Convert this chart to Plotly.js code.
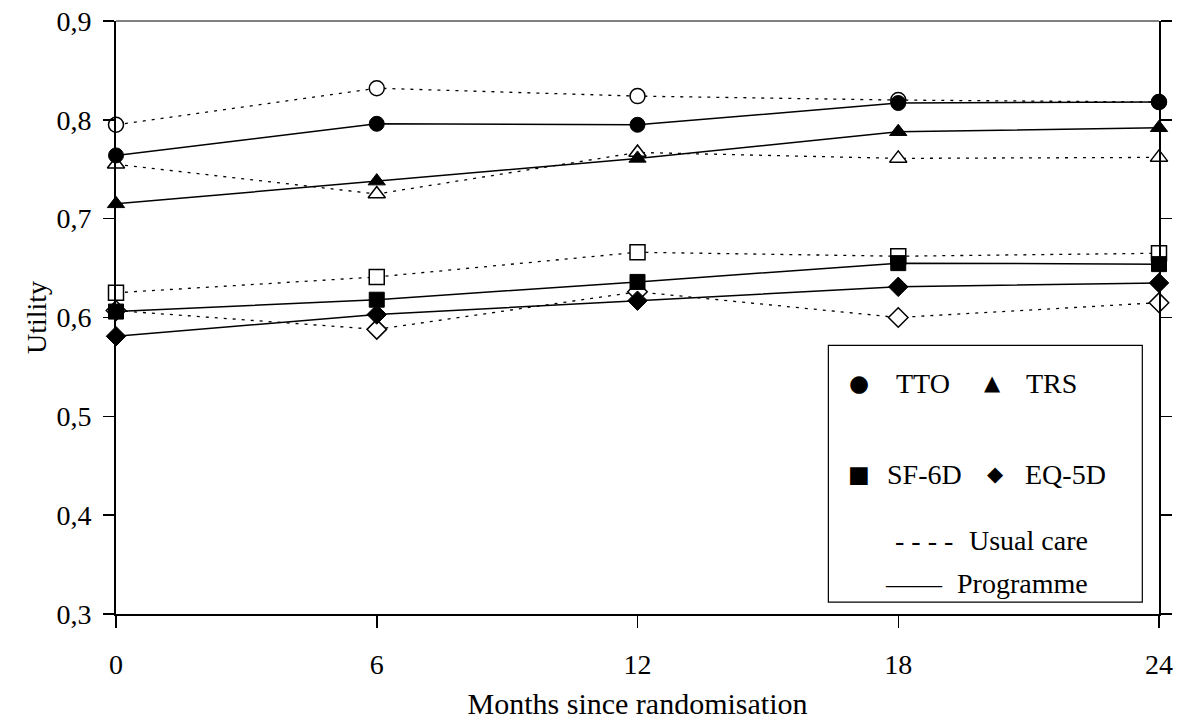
<!DOCTYPE html>
<html>
<head>
<meta charset="utf-8">
<script src="https://cdn.plot.ly/plotly-3.0.1.min.js"></script>
<style>html,body{margin:0;padding:0;background:#fff;}#chart{width:1179px;height:720px;}</style>
</head>
<body>
<div id="chart"></div>
<script>
const months = [0, 6, 12, 18, 24];
const ttoUsual = [0.795, 0.832, 0.824, 0.820, 0.818];
const ttoProg  = [0.764, 0.796, 0.795, 0.817, 0.818];
const trsUsual = [0.755, 0.725, 0.767, 0.761, 0.762];
const trsProg  = [0.715, 0.738, 0.761, 0.788, 0.792];
const sfUsual  = [0.625, 0.641, 0.666, 0.662, 0.665];
const sfProg   = [0.606, 0.618, 0.636, 0.655, 0.654];
const eqUsual  = [0.607, 0.588, 0.626, 0.600, 0.615];
const eqProg   = [0.581, 0.603, 0.617, 0.631, 0.635];
const yTicks = [0.3, 0.4, 0.5, 0.6, 0.7, 0.8, 0.9];
const xTicks = [0, 6, 12, 18, 24];

const FONT = 'Liberation Serif, DejaVu Serif, serif';
const dotted = '3px,6px';

function usual(y, sym) {
  return {x: months, y: y, type: 'scatter', mode: 'lines+markers', cliponaxis: false,
    line: {color: '#000', width: 1.3, dash: dotted},
    marker: {symbol: sym, size: 15, color: '#fff', line: {color: '#000', width: 1.5}},
    showlegend: false};
}
function prog(y, sym) {
  return {x: months, y: y, type: 'scatter', mode: 'lines+markers', cliponaxis: false,
    line: {color: '#000', width: 1.5},
    marker: {symbol: sym, size: 15, color: '#000', line: {color: '#000', width: 1}},
    showlegend: false};
}

const data = [
  usual(eqUsual, 'diamond'), usual(sfUsual, 'square'), usual(trsUsual, 'triangle-up'), usual(ttoUsual, 'circle'),
  prog(eqProg, 'diamond'), prog(sfProg, 'square'), prog(trsProg, 'triangle-up'), prog(ttoProg, 'circle')
];

const lx0 = 0.683, lx1 = 0.984, ly0 = 0.020, ly1 = 0.453;
function ann(x, y, text, size, anchor) {
  return {xref: 'paper', yref: 'paper', x: x, y: y, text: text, showarrow: false,
    xanchor: anchor || 'left', yanchor: 'middle', font: {family: FONT, size: size, color: '#000'}};
}
function sym(x, y, ch, size) {
  return {xref: 'paper', yref: 'paper', x: x, y: y, text: ch, showarrow: false,
    xanchor: 'center', yanchor: 'middle', font: {family: 'DejaVu Sans', size: size, color: '#000'}};
}

const layout = {
  width: 1179, height: 720,
  margin: {l: 116, r: 20, t: 21, b: 106},
  paper_bgcolor: '#fff', plot_bgcolor: '#fff',
  separators: ', ',
  font: {family: FONT, size: 26, color: '#000'},
  xaxis: {
    range: [0, 24], tickvals: xTicks, ticktext: xTicks.map(String),
    showgrid: false, zeroline: false, showline: true, linecolor: '#000', linewidth: 2,
    ticks: 'outside', ticklen: 12, tickwidth: 1.5, tickcolor: '#000',
    ticklabelstandoff: 12,
    tickfont: {family: FONT, size: 28},
    title: {text: 'Months since randomisation', font: {family: FONT, size: 30}, standoff: 14}
  },
  yaxis: {
    range: [0.3, 0.9], tickvals: yTicks, tickformat: '.1f',
    showgrid: false, zeroline: false, showline: true, linecolor: '#000', linewidth: 2,
    mirror: 'ticks',
    ticks: 'outside', ticklen: 11, tickwidth: 1.5, tickcolor: '#000',
    ticklabelstandoff: 6,
    tickfont: {family: FONT, size: 28},
    title: {text: 'Utility', font: {family: FONT, size: 28}, standoff: 2}
  },
  shapes: [
    {type: 'line', xref: 'paper', yref: 'paper', x0: 0, x1: 1, y0: 1, y1: 1, line: {color: '#000', width: 1}},
    {type: 'rect', xref: 'paper', yref: 'paper', x0: lx0, x1: lx1, y0: ly0, y1: ly1,
     line: {color: '#000', width: 1.2}, fillcolor: '#fff', layer: 'above'}
  ],
  annotations: [
    sym(0.712, 0.389, '●', 23), ann(0.746, 0.389, 'TTO', 28),
    sym(0.840, 0.389, '▲', 21), ann(0.871, 0.389, 'TRS', 28),
    sym(0.712, 0.236, '■', 23), ann(0.737, 0.236, 'SF-6D', 28),
    sym(0.843, 0.236, '◆', 21), ann(0.870, 0.236, 'EQ-5D', 28),
    ann(0.745, 0.124, '- - - -', 28), ann(0.934, 0.124, 'Usual care', 28, 'right'),
    ann(0.735, 0.052, '——', 28), ann(0.934, 0.052, 'Programme', 28, 'right')
  ]
};

Plotly.newPlot('chart', data, layout, {displayModeBar: false, staticPlot: true});
</script>
</body>
</html>
